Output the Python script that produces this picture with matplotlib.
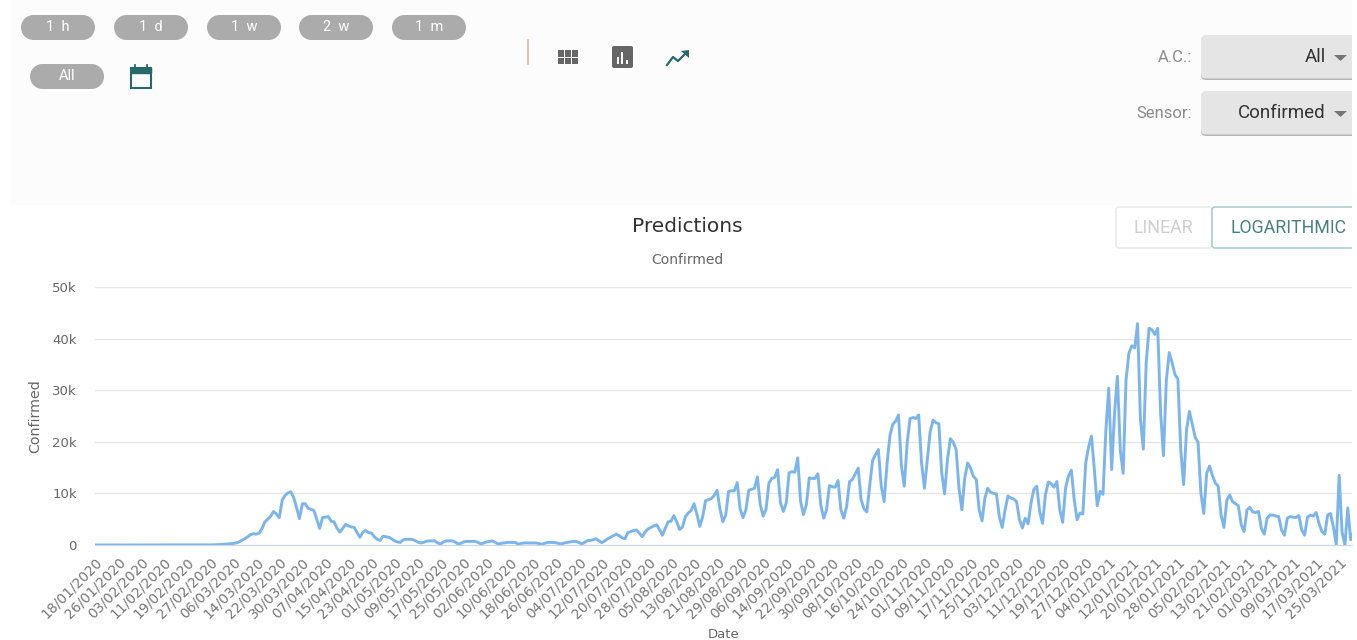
import numpy as np
from matplotlib import pyplot as plt
from matplotlib.patches import FancyBboxPatch, Rectangle, Polygon, Circle

# Values, one per day from 18/01/2020, in thousands

confirmed = [0] * 40 + [
    .02, .03, .05, .08, .1, .15, .2, .25, .3, .4,
    .6, .9, 1.2, 1.6, 2.0, 2.2, 2.1, 2.3, 3.2, 4.5,
    5.0, 5.6, 6.5, 6.0, 5.3, 8.7, 9.6, 10.1, 10.3, 9.2,
    7.2, 5.1, 8.0, 8.0, 7.1, 6.9, 6.7, 5.0, 3.2, 5.3,
    5.4, 5.5, 4.6, 4.5, 3.3, 2.5, 3.2, 4.0, 3.7, 3.5,
    3.4, 2.4, 1.5, 2.5, 2.8, 2.4, 2.3, 1.6, 1.1, .9,
    1.7, 1.6, 1.5, 1.2, .8, .6, .5, 1.0, 1.1, 1.1,
    1.1, .9, .6, .4, .5, .7, .8, .8, .8, .4,
    .2, .6, .8, .8, .8, .6, .2, .3, .6, .7,
    .7, .7, .7, .5, .2, .4, .6, .7, .8, .5,
    .2, .3, .4, .5, .5, .5, .5, .15, .3, .4,
    .4, .4, .4, .4, .3, .15, .3, .5, .5, .5,
    .45, .3, .2, .4, .5, .6, .7, .7, .5, .2,
    .5, .85, .9, 1.0, 1.2, .8, .45, .8, 1.2, 1.5,
    1.8, 2.1, 1.8, 1.4, 1.2, 2.4, 2.6, 2.8, 2.9, 2.3,
    1.6, 2.5, 3.1, 3.4, 3.7, 3.9, 3.0, 1.9, 3.2, 4.5,
    4.6, 5.7, 4.5, 3.0, 3.5, 5.5, 6.2, 6.7, 8.0, 6.0,
    3.6, 5.5, 8.6, 8.8, 9.0, 9.6, 10.6, 7.0, 4.5, 5.8,
    10.4, 10.5, 10.5, 12.1, 7.0, 5.3, 6.8, 10.6, 10.8, 11.0,
    13.2, 7.8, 5.6, 6.9, 12.0, 12.9, 13.1, 14.6, 8.2, 6.5,
    8.1, 14.0, 14.2, 14.1, 16.9, 8.4, 5.9, 7.8, 13.0, 12.9,
    12.9, 13.8, 7.8, 5.2, 6.8, 11.5, 11.3, 11.2, 12.5, 6.8,
    5.2, 7.5, 12.3, 12.7, 13.8, 14.9, 8.8, 7.0, 6.4, 11.5,
    16.4, 17.5, 18.5, 11.4, 8.4, 15.6, 21.1, 23.4, 24.0, 25.2,
    15.3, 11.4, 19.8, 24.5, 24.7, 24.5, 25.2, 15.9, 11.0, 16.6,
    22.0, 24.2, 23.7, 23.5, 14.0, 9.9, 16.6, 20.6, 19.9, 18.5,
    11.0, 6.8, 13.0, 15.9, 14.9, 13.3, 12.7, 6.8, 4.7, 9.1,
    11.0, 10.2, 10.0, 9.9, 5.5, 3.4, 6.8, 9.5, 9.1, 8.9,
    8.4, 4.9, 3.3, 5.2, 4.1, 8.1, 10.8, 11.4, 6.5, 4.2,
    9.7, 12.2, 11.9, 11.2, 12.3, 6.8, 4.4, 11.0, 13.4, 14.5,
    8.8, 4.9, 6.2, 6.0, 15.9, 19.0, 21.1, 14.6, 7.6, 10.4,
    9.8, 22.3, 30.4, 14.6, 25.6, 32.7, 18.4, 13.9, 32.0, 37.2,
    38.6, 38.2, 42.9, 24.3, 18.6, 35.3, 42.0, 41.7, 40.8, 42.0,
    25.6, 17.3, 32.0, 37.3, 35.3, 33.0, 32.2, 18.4, 11.7, 22.3,
    25.9, 23.4, 20.9, 19.9, 10.0, 6.1, 13.9, 15.3, 13.5, 12.0,
    11.4, 5.8, 3.4, 8.7, 9.7, 8.4, 8.0, 7.6, 3.9, 2.6,
    6.8, 7.3, 6.4, 6.3, 6.5, 3.2, 2.1, 5.2, 5.8, 5.8,
    5.6, 5.5, 2.9, 1.9, 5.2, 5.5, 5.4, 5.3, 5.7, 2.9,
    1.9, 5.4, 5.8, 5.6, 6.3, 4.2, 2.6, 2.1, 5.8, 6.1,
    3.5, 0, 13.5, 2.5, 0, 7.2, 1.0, 2.5,
]

date_labels = [
    "18/01/2020", "26/01/2020", "03/02/2020", "11/02/2020", "19/02/2020", "27/02/2020", "06/03/2020",
    "14/03/2020", "22/03/2020", "30/03/2020", "07/04/2020", "15/04/2020", "23/04/2020", "01/05/2020",
    "09/05/2020", "17/05/2020", "25/05/2020", "02/06/2020", "10/06/2020", "18/06/2020", "26/06/2020",
    "04/07/2020", "12/07/2020", "20/07/2020", "28/07/2020", "05/08/2020", "13/08/2020", "21/08/2020",
    "29/08/2020", "06/09/2020", "14/09/2020", "22/09/2020", "30/09/2020", "08/10/2020", "16/10/2020",
    "24/10/2020", "01/11/2020", "09/11/2020", "17/11/2020", "25/11/2020", "03/12/2020", "11/12/2020",
    "19/12/2020", "27/12/2020", "04/01/2021", "12/01/2021", "20/01/2021", "28/01/2021", "05/02/2021",
    "13/02/2021", "21/02/2021", "01/03/2021", "09/03/2021", "17/03/2021", "25/03/2021",
]
y_ticks = [0, 10, 20, 30, 40, 50]
y_labels = ["0", "10k", "20k", "30k", "40k", "50k"]
range_buttons = ["1  h", "1  d", "1  w", "2  w", "1  m", "All"]

W, H = 1357, 640
TEAL = '#26696b'

fig = plt.figure(figsize=(W / 100, H / 100), dpi=100, facecolor='white')

# UI layer, in pixels

ui = fig.add_axes([0, 0, 1, 1])
ui.set_xlim(0, W)
ui.set_ylim(H, 0)
ui.axis('off')


def rounded(x0, x1, y0, y1, color, radius, edge='none', lw=0, z=2):
    p = FancyBboxPatch((x0 + radius, y0 + radius), x1 - x0 - 2 * radius, y1 - y0 - 2 * radius,
                       boxstyle=f"round,pad={radius}", fc=color, ec=edge, lw=lw, zorder=z)
    ui.add_patch(p)


def pill(x0, x1, y0, y1, color):
    r = (y1 - y0) / 2
    ui.add_patch(Rectangle((x0 + r, y0), x1 - x0 - 2 * r, y1 - y0, fc=color, ec='none', zorder=2))
    ui.add_patch(Circle((x0 + r, y0 + r), r, fc=color, ec='none', zorder=2))
    ui.add_patch(Circle((x1 - r, y0 + r), r, fc=color, ec='none', zorder=2))


ui.add_patch(Rectangle((10, 0), 1342, 205, fc='#fcfcfc', ec='none', zorder=1))

pill_x = [21, 114, 207, 299, 392, 30]
pill_y = [15, 15, 15, 15, 15, 64]
for x, y, name in zip(pill_x, pill_y, range_buttons):
    pill(x, x + 74, y, y + 25, '#ababab')
    ui.text(x + 37, y + 12, name, color='white', fontsize=10.5, family='Roboto',
            ha='center', va='center', zorder=3)

# calendar icon
ui.add_patch(Rectangle((131, 68), 20, 20, fc='none', ec=TEAL, lw=1.5, zorder=3))
ui.add_patch(Rectangle((131, 68), 20, 5, fc=TEAL, ec=TEAL, lw=1, zorder=3))
ui.plot([135, 135], [65, 68], color=TEAL, lw=1.3, zorder=3)
ui.plot([147, 147], [65, 68], color=TEAL, lw=1.3, zorder=3)

ui.plot([528, 528], [40, 64], color='#d3c6be', lw=1.5, zorder=3)

# grid icon
for r in range(2):
    for c in range(3):
        ui.add_patch(Rectangle((558 + c * 7, 50 + r * 7.5), 6, 6.5, fc='#666666', ec='none', zorder=3))

# bar icon
rounded(612, 633, 46, 68, '#666666', 2, z=3)
ui.add_patch(Rectangle((617, 57), 2, 7, fc='white', ec='none', zorder=4))
ui.add_patch(Rectangle((621, 52), 2, 12, fc='white', ec='none', zorder=4))
ui.add_patch(Rectangle((626, 60), 2, 4, fc='white', ec='none', zorder=4))

# trend icon
ui.plot([667, 673, 678, 687], [65, 57, 61, 52], color=TEAL, lw=1.6, zorder=3)
ui.add_patch(Polygon([[681, 51], [689, 50], [689, 58]], fc=TEAL, ec='none', zorder=3))

# dropdowns
for y0, label, value in [(35, "A.C.:", "All"), (91, "Sensor:", "Confirmed")]:
    rounded(1201, 1362, y0 + 1, y0 + 45, '#b5b5b5', 5, z=2)
    rounded(1201, 1362, y0, y0 + 43.5, '#e5e5e5', 5, z=2.1)
    ui.text(1192, y0 + 23, label, color='#8a8a8a', fontsize=12, family='Roboto', ha='right', va='center', zorder=3)
    ui.text(1326, y0 + 22, value, color='#333333', fontsize=13.5, family='Roboto', ha='right', va='center', zorder=3)
    ui.add_patch(Polygon([[1334, y0 + 20], [1347, y0 + 20], [1340.5, y0 + 26]], fc='#757575', ec='none', zorder=3))

# scale buttons
rounded(1116, 1212, 207, 248, 'white', 3, edge='#e8e8e8', lw=1, z=2)
rounded(1212, 1370, 207, 248, 'white', 3, edge='#9cc5c5', lw=1, z=2)
ui.text(1163.5, 228, "LINEAR", color='#cfcfcf', fontsize=12.8, family='Roboto', ha='center', va='center', zorder=3)
ui.text(1289, 228, "LOGARITHMIC", color='#4a8082', fontsize=12.8, family='Roboto', ha='center', va='center', zorder=3)

# right edge of the screenshot
ui.add_patch(Rectangle((1352, 0), 5, H, fc='white', ec='none', zorder=5))

ui.text(687, 226, "Predictions", color='#333333', fontsize=14.5, ha='center', va='center')
ui.text(687, 260, "Confirmed", color='#666666', fontsize=10, ha='center', va='center')
ui.text(35, 416, "Confirmed", color='#666666', fontsize=10.3, rotation=90, ha='center', va='center')
ui.text(724, 634, "Date", color='#666666', fontsize=9.5, ha='center', va='center')

# Chart

px_per_day = 2.88
left, right, top, bottom = 95, 1352, 287, 545
ax = fig.add_axes([left / W, 1 - bottom / H, (right - left) / W, (bottom - top) / H])
ax.patch.set_alpha(0)
days = np.arange(len(confirmed))
ax.plot(days, confirmed, color='#7cb5ec', lw=2.1, solid_joinstyle='round', clip_on=True)
ax.set_xlim(0, (right - left) / px_per_day)
ax.set_ylim(0, 50)
ax.set_yticks(y_ticks, y_labels)
ax.set_xticks(np.arange(len(date_labels)) * 8, date_labels)
for lab in ax.get_xticklabels():
    lab.set_rotation(45)
    lab.set_ha('right')
    lab.set_rotation_mode('anchor')
ax.tick_params(axis='x', length=0, pad=7, labelsize=10, labelcolor='#777777')
ax.tick_params(axis='y', length=0, pad=13, labelsize=9.5, labelcolor='#666666')
ax.grid(axis='y', color='#e6e6e6', lw=1)
ax.set_axisbelow(True)
for side in ['top', 'right', 'left']:
    ax.spines[side].set_visible(False)
ax.spines['bottom'].set_color('#ccd6eb')

fig.savefig('out.png', dpi=100)
